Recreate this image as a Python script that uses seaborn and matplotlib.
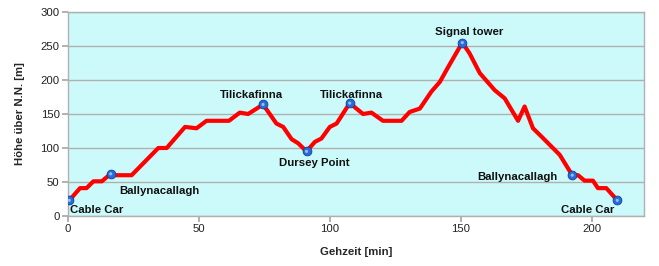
import matplotlib
matplotlib.use("Agg")
import matplotlib.pyplot as plt
import seaborn as sns
import pandas as pd

# ---- data ----
time_min = [0.5, 4.6, 7.1, 9.7, 12.9, 16.3, 17.9, 24.3, 34.5, 37.7, 44.7, 49.1, 52.9,
            61.5, 65.6, 68.8, 74.5, 79.6, 82.2, 85.4, 87.9, 91.1, 94.3, 96.8, 100.0,
            102.6, 107.6, 112.7, 115.9, 120.3, 127.4, 130.5, 134.4, 138.8, 142.0, 145.2,
            150.6, 153.4, 157.3, 163.0, 166.8, 171.9, 174.4, 177.6, 180.8, 185.2, 187.8,
            192.6, 194.8, 197.3, 200.5, 202.4, 205.6, 209.8]
height_m = [23, 41, 41, 51, 51, 62, 60, 60, 100, 100, 131, 129, 140,
            140, 152, 150, 164, 136, 131, 113, 107, 95, 109, 114, 131,
            136, 166, 150, 152, 140, 140, 153, 158, 183, 197, 219,
            255, 239, 210, 185, 173, 140, 161, 129, 117, 100, 90,
            60, 60, 52, 52, 41, 41, 23]

poi_names = ["Cable Car", "Ballynacallagh", "Tilickafinna", "Dursey Point",
             "Tilickafinna", "Signal tower", "Ballynacallagh", "Cable Car"]
poi_time = [0.5, 16.3, 74.5, 91.1, 107.6, 150.6, 192.6, 209.8]
poi_height = [23, 62, 164, 95, 166, 255, 60, 23]

x_ticks = [0, 50, 100, 150, 200]
y_ticks = [0, 50, 100, 150, 200, 250, 300]

# label placement (style): offset in pixels, horizontal alignment
label_offsets = [(1, -10, "left"), (9, -17, "left"), (-12, 9, "center"),
                 (8, -12, "center"), (2, 8, "center"), (7, 11, "center"),
                 (-15, -2, "right"), (-3, -10, "right")]

FS = 8.2

sns.set_theme(style="white")
plt.rcParams["font.family"] = ["Liberation Sans", "DejaVu Sans"]

fig = plt.figure(figsize=(6.59, 2.66), dpi=100)
ax = fig.add_axes([68 / 659, 50 / 266, (644 - 68) / 659, (216 - 12) / 266])
ax.set_facecolor("#ccfafa")

track = pd.DataFrame({"t": time_min, "h": height_m})
pois = pd.DataFrame({"t": poi_time, "h": poi_height, "name": poi_names})

sns.lineplot(data=track, x="t", y="h", sort=False, color="#ff0000",
             linewidth=3.0, ax=ax, zorder=3)
sns.scatterplot(data=pois, x="t", y="h", color="#2a6ad8", edgecolor="#103f9a",
                s=40, linewidth=0.6, ax=ax, zorder=4)
# small highlight for a sphere-like look
sns.scatterplot(data=pois, x="t", y="h", color="#8fc0ff", edgecolor="none",
                s=5, ax=ax, zorder=5)

for (name, t, h), (dx, dy, ha) in zip(zip(poi_names, poi_time, poi_height), label_offsets):
    ax.annotate(name, (t, h), xytext=(dx, dy), textcoords="offset pixels",
                ha=ha, va="center", fontsize=FS, fontweight="bold",
                color="#111111", zorder=6)

ax.set_xlim(0, 220)
ax.set_ylim(0, 300)
ax.set_xticks(x_ticks)
ax.set_yticks(y_ticks)
ax.tick_params(axis="both", labelsize=FS, colors="#222222", length=4,
               direction="out", bottom=True, left=True, pad=2)
ax.tick_params(axis="both", color="#a8a8a8")
ax.yaxis.grid(True, color="#b0b0b0", linewidth=1.0)
ax.xaxis.grid(False)
for sp in ax.spines.values():
    sp.set_color("#b0b0b0")
    sp.set_linewidth(1.0)

ax.set_xlabel("Gehzeit [min]", fontsize=FS, fontweight="bold", labelpad=9)
ax.set_ylabel("Höhe über N.N. [m]", fontsize=FS, fontweight="bold", labelpad=11)

fig.savefig("out.png", dpi=100, facecolor="white")
